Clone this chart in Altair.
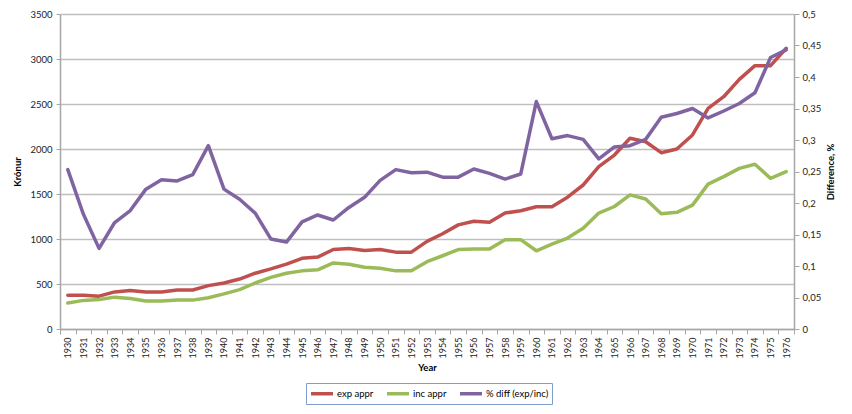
import altair as alt
import pandas as pd

years = list(range(1930, 1977))
exp_appr = [376, 376, 365, 412, 427, 412, 412, 434, 434, 482, 511, 555, 620, 668, 721,
            785, 799, 883, 894, 872, 883, 854, 854, 974, 1058, 1157, 1197, 1186, 1288, 1314,
            1358, 1358, 1465, 1600, 1804, 1933, 2119, 2081, 1959, 2000, 2156, 2452, 2581,
            2774, 2926, 2926, 3119]
inc_appr = [288, 318, 328, 354, 339, 310, 310, 321, 321, 347, 390, 438, 511, 573, 620,
            646, 657, 734, 719, 686, 675, 646, 646, 748, 814, 883, 890, 890, 993, 993,
            869, 942, 1011, 1120, 1288, 1361, 1490, 1445, 1280, 1296, 1376, 1610, 1693,
            1785, 1830, 1674, 1748]
pct_diff = [0.253, 0.182, 0.128, 0.169, 0.188, 0.222, 0.237, 0.235, 0.245, 0.291, 0.222,
            0.206, 0.184, 0.143, 0.138, 0.170, 0.181, 0.173, 0.193, 0.209, 0.236, 0.253,
            0.248, 0.249, 0.241, 0.241, 0.254, 0.247, 0.238, 0.246, 0.361, 0.302, 0.307,
            0.301, 0.270, 0.289, 0.291, 0.301, 0.336, 0.342, 0.350, 0.335, 0.346, 0.358,
            0.375, 0.431, 0.443]

series_names = ["exp appr", "inc appr", "% diff (exp/inc)"]
colors = ["#C0504D", "#9BBB59", "#8064A2"]
left_ticks = list(range(0, 3501, 500))
right_ticks = [0, 0.05, 0.1, 0.15, 0.2, 0.25, 0.3, 0.35, 0.4, 0.45, 0.5]

rows = []
for i, yr in enumerate(years):
    rows.append({"Year": str(yr), "series": series_names[0], "value": exp_appr[i]})
    rows.append({"Year": str(yr), "series": series_names[1], "value": inc_appr[i]})
    rows.append({"Year": str(yr), "series": series_names[2], "value": pct_diff[i]})
df = pd.DataFrame(rows)

FONT = "Lato"
AX = "#A6A6A6"

xenc = alt.X(
    "Year:O",
    scale=alt.Scale(type="band", paddingInner=0, paddingOuter=0),
    bandPosition=0.5,
    axis=alt.Axis(
        title="Year", labelAngle=-90, tickBand="extent", labelOverlap=False,
        labelFontSize=9, labelColor="#222", labelFont=FONT, labelPadding=3,
        tickSize=5, tickColor=AX, domainColor=AX, domainWidth=1.5,
        titleFont=FONT, titleFontSize=9.5, titleFontWeight="bold", titleColor="#000",
        titlePadding=5, grid=False,
    ),
)

color = alt.Color(
    "series:N",
    scale=alt.Scale(domain=series_names, range=colors),
    legend=alt.Legend(
        title=None, orient="none", direction="horizontal", legendX=246, legendY=369,
        symbolType="M-1,0H3", symbolSize=121, symbolStrokeWidth=3.5,
        labelFont=FONT, labelFontSize=9.5, labelColor="#000", labelOffset=13,
        columnPadding=6, padding=3, strokeColor="#7F9DCC",
        fillColor="white",
    ),
)

left = alt.Chart(df).transform_filter(
    alt.FieldOneOfPredicate(field="series", oneOf=series_names[:2])
).mark_line(strokeWidth=3.5, strokeJoin="round", strokeCap="round").encode(
    x=xenc,
    y=alt.Y(
        "value:Q",
        scale=alt.Scale(domain=[0, 3500], nice=False, zero=True),
        axis=alt.Axis(
            title="Krónur", values=left_ticks, format="d", grid=True, gridColor="#BFBFBF",
            gridWidth=1.3, labelFont=FONT, labelFontSize=9.5, labelColor="#222",
            tickSize=4, tickColor=AX, domainColor=AX, domainWidth=1.5, labelPadding=4,
            titleFont=FONT, titleFontSize=9.5, titleFontWeight="bold", titleColor="#000",
            titlePadding=7,
        ),
    ),
    color=color,
)

right = alt.Chart(df).transform_filter(
    alt.FieldEqualPredicate(field="series", equal=series_names[2])
).mark_line(strokeWidth=3.5, strokeJoin="round", strokeCap="round").encode(
    x=xenc,
    y=alt.Y(
        "value:Q",
        scale=alt.Scale(domain=[0, 0.5], nice=False, zero=True),
        axis=alt.Axis(
            orient="right", title="Difference, %", values=right_ticks, grid=False,
            labelExpr="replace(format(datum.value, '~g'), '.', ',')",
            labelFont=FONT, labelFontSize=9.5, labelColor="#222",
            tickSize=5, tickColor=AX, domainColor=AX, domainWidth=1.5, labelPadding=3,
            titleFont=FONT, titleFontSize=9.5, titleFontWeight="bold", titleColor="#000",
            titleAngle=270, titlePadding=15,
        ),
    ),
    color=color,
)

chart = alt.layer(left, right).resolve_scale(y="independent").properties(
    width=734, height=315,
    autosize=alt.AutoSizeParams(type="none"),
    padding={"left": 52, "top": 6, "right": 50, "bottom": 76},
).configure_view(stroke=None).configure_legend(strokeWidth=1)

chart.save("out.html", embed_options={"renderer": "svg", "actions": False})
